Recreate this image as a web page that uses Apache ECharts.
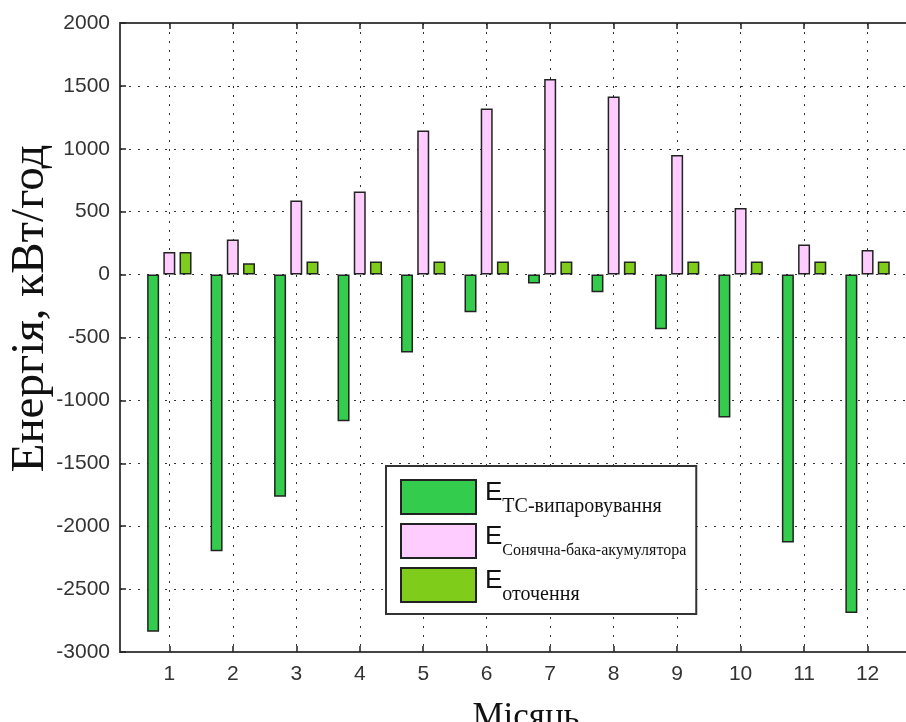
<!DOCTYPE html>
<html>
<head>
<meta charset="utf-8">
<script src="https://cdn.jsdelivr.net/npm/echarts@6/dist/echarts.min.js"></script>
<style>
html,body{margin:0;padding:0;background:#fff;}
#chart{width:906px;height:722px;}
</style>
</head>
<body>
<div id="chart"></div>
<script>
const months = [1,2,3,4,5,6,7,8,9,10,11,12];
const tsEvap = [-2840,-2200,-1765,-1165,-620,-300,-70,-140,-435,-1135,-2130,-2690];
const solarTank = [180,280,590,660,1145,1320,1555,1415,950,530,240,195];
const ambient = [180,90,105,105,105,105,105,105,105,105,105,105];
const yTicks = [-3000,-2500,-2000,-1500,-1000,-500,0,500,1000,1500,2000];
const seriesNames = ['ТС-випаровування','Сонячна-бака-акумулятора','оточення'];
const colors = ['#33cc4d','#ffccff','#80cc1a'];

const chart = echarts.init(document.getElementById('chart'));
const pairs = arr => months.map((m,i)=>[m, arr[i]]);
const gridLine = {show:true, lineStyle:{color:'#333', type:[2,7], width:1}};
const barBase = (name, arr, color) => ({
  type:'bar', name:name, data:pairs(arr), barWidth:12, barGap:'35%',
  itemStyle:{color:color, borderColor:'#222', borderWidth:1.5},
  emphasis:{disabled:true}, animation:false
});

chart.setOption({
  animation:false,
  grid:{left:120, right:-6, top:23, bottom:70, outerBoundsMode:'none', containLabel:false},
  xAxis:[{
    type:'value', min:0.223, max:12.7,
    axisLine:{show:true, onZero:false, lineStyle:{color:'#444', width:2}},
    axisTick:{show:true, inside:true, length:6, customValues:months, lineStyle:{color:'#222', width:1.5}},
    axisLabel:{customValues:months, margin:12, fontSize:21, color:'#333', fontFamily:'Liberation Sans'},
    splitLine:gridLine,
    name:'Місяць', nameLocation:'middle', nameGap:48,
    nameTextStyle:{fontSize:35, fontFamily:'Liberation Serif', color:'#111', padding:[0,0,0,20]}
  },{
    type:'value', min:0.223, max:12.7, position:'top',
    axisLine:{show:true, onZero:false, lineStyle:{color:'#444', width:2}},
    axisTick:{show:true, inside:true, length:6, customValues:months, lineStyle:{color:'#222', width:1.5}},
    axisLabel:{show:false}, splitLine:{show:false}
  }],
  yAxis:{
    type:'value', min:-3000, max:2000, interval:500,
    axisLine:{show:true, lineStyle:{color:'#444', width:2}},
    axisTick:{show:true, inside:true, length:6, lineStyle:{color:'#222', width:1.5}},
    axisLabel:{margin:10, fontSize:21, color:'#333', fontFamily:'Liberation Sans',
      formatter: v => String(v)},
    splitLine:gridLine,
    name:'Енергія, кВт/год', nameLocation:'middle', nameGap:66, nameRotate:90, nameMoveOverlap:false,
    nameTextStyle:{fontSize:47, fontFamily:'Liberation Serif', color:'#111', padding:[0,0,0,58]}
  },
  legend:{
    show:true, orient:'vertical', left:386, top:466,
    backgroundColor:'#fff', borderColor:'#333', borderWidth:2,
    padding:[11,10,9,14], itemWidth:75, itemHeight:34, itemGap:6,
    selectedMode:false, icon:'rect',
    data:seriesNames,
    formatter: function(name){
      const key = name === seriesNames[1] ? 's2' : 's';
      return '{e|E}{' + key + '|' + name + '}';
    },
    textStyle:{
      rich:{
        e:{fontSize:26, fontFamily:'Liberation Sans', color:'#111', lineHeight:26, padding:[0,0,8,4]},
        s:{fontSize:20, fontFamily:'Liberation Serif', color:'#111', lineHeight:14, padding:[20,0,0,0]},
        s2:{fontSize:16, fontFamily:'Liberation Serif', color:'#111', lineHeight:14, padding:[20,0,0,0]}
      }
    }
  },
  series:[
    barBase(seriesNames[0], tsEvap, colors[0]),
    barBase(seriesNames[1], solarTank, colors[1]),
    barBase(seriesNames[2], ambient, colors[2])
  ]
});
</script>
</body>
</html>
